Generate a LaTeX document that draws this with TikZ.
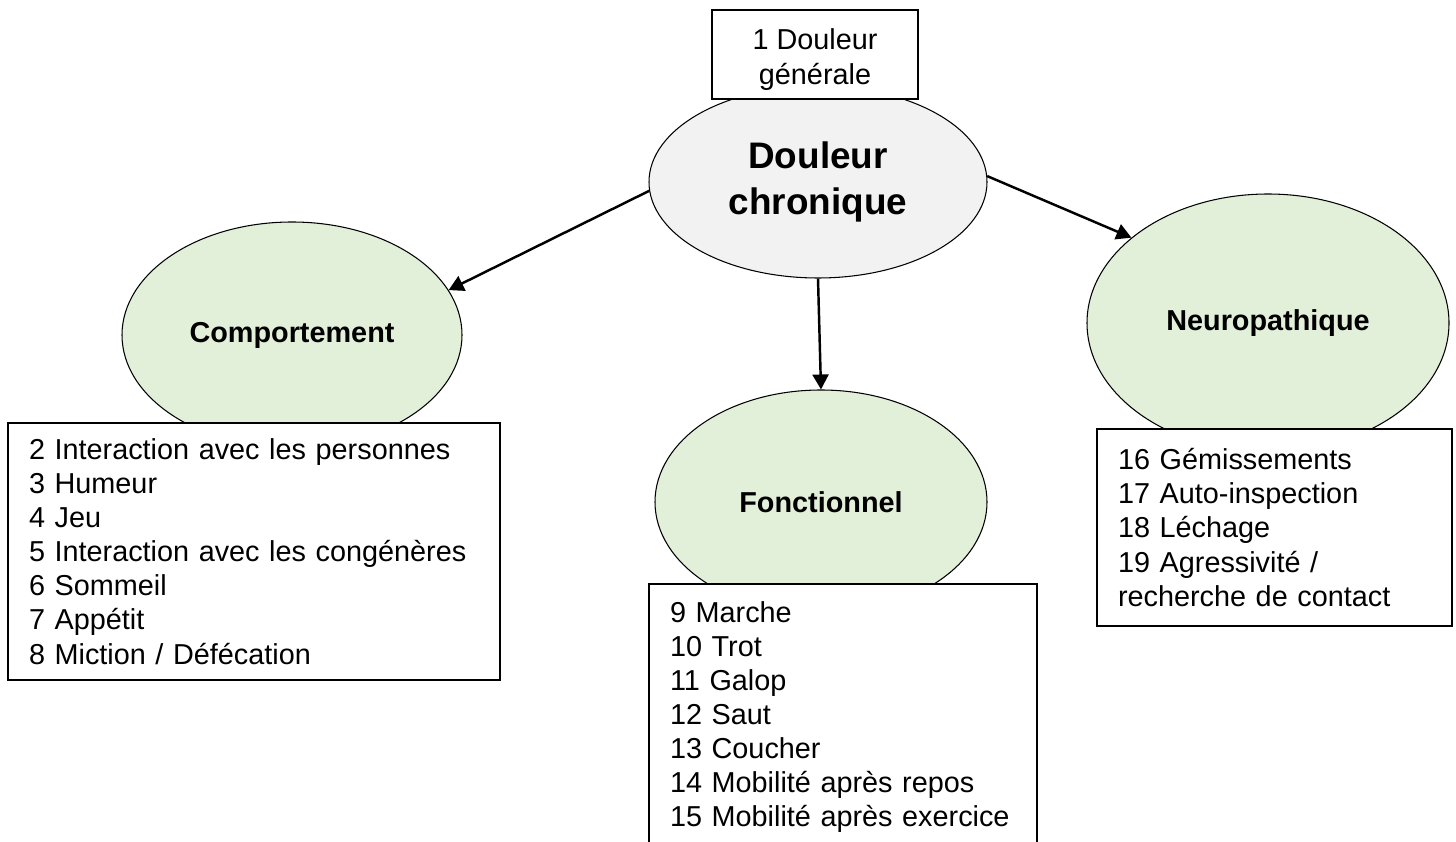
\documentclass[tikz,border=0pt]{standalone}
\usepackage{fontspec}
\setmainfont{Liberation Sans}
\usepackage{tikz}
\usetikzlibrary{positioning}
\usetikzlibrary{shapes, arrows.meta}
\definecolor{paleGray}{HTML}{F2F2F2}
\definecolor{paleGreen}{HTML}{E2EFD9}

\begin{document}
\begin{tikzpicture}
[
inner sep=0pt,
std1/.style={ellipse, fill=paleGray, draw=black, line width=0.6pt, align=center,
  font=\fontsize{21pt}{26.2pt}\selectfont\bfseries},
std2/.style={ellipse, fill=paleGreen, draw=black, line width=0.6pt, align=center,
  font=\fontsize{16.4pt}{19.4pt}\selectfont\bfseries},
std3/.style={rectangle, fill=white, draw=black, line width=1pt, align=left,
  inner xsep=0.42cm, font=\fontsize{16.4pt}{19.4pt}\selectfont},
arr/.style={-{Triangle[length=0.3cm,width=0.32cm]}, black, line width=1.4pt},
]
\useasboundingbox (0,0) rectangle (29.12,-16.84);

\node [std1, minimum width=6.76cm, minimum height=3.84cm] (chronic) at (16.36,-3.64) {Douleur\\chronique};
\node [std2, minimum width=6.8cm, minimum height=4.52cm] (behav) at (5.84,-6.70) {Comportement};
\node [std2, minimum width=6.64cm, minimum height=4.48cm] (funct) at (16.42,-10.04) {Fonctionnel};
\node [std2, minimum width=7.24cm, minimum height=5.16cm] (neuro) at (25.36,-6.46) {Neuropathique};

\draw [arr] (chronic.183) -- (behav.16);
\draw [arr] (chronic.south) -- (funct.north);
\draw [arr] (chronic.2) -- (neuro.148);

\node [std3, align=center, minimum width=4.12cm, minimum height=1.78cm] (general) at (16.30,-1.09) {\rule{0pt}{0.62cm}1 Douleur\\générale};

\node [std3, text width=9.0cm, minimum height=5.14cm] (behavlist) at (5.08,-11.03)
  {2 Interaction avec les personnes\\3 Humeur\\4 Jeu\\5 Interaction avec les congénères\\6 Sommeil\\7 Appétit\\8 Miction / Défécation};
\node [std3, text width=6.92cm, minimum height=5.32cm] (functlist) at (16.86,-14.34)
  {9 Marche\\10 Trot\\11 Galop\\12 Saut\\13 Coucher\\14 Mobilité après repos\\15 Mobilité après exercice};
\node [std3, text width=6.26cm, minimum height=3.94cm] (neurolist) at (25.49,-10.55)
  {16 Gémissements\\17 Auto-inspection\\18 Léchage\\19 Agressivité /\\recherche de contact};
\end{tikzpicture}
\end{document}
